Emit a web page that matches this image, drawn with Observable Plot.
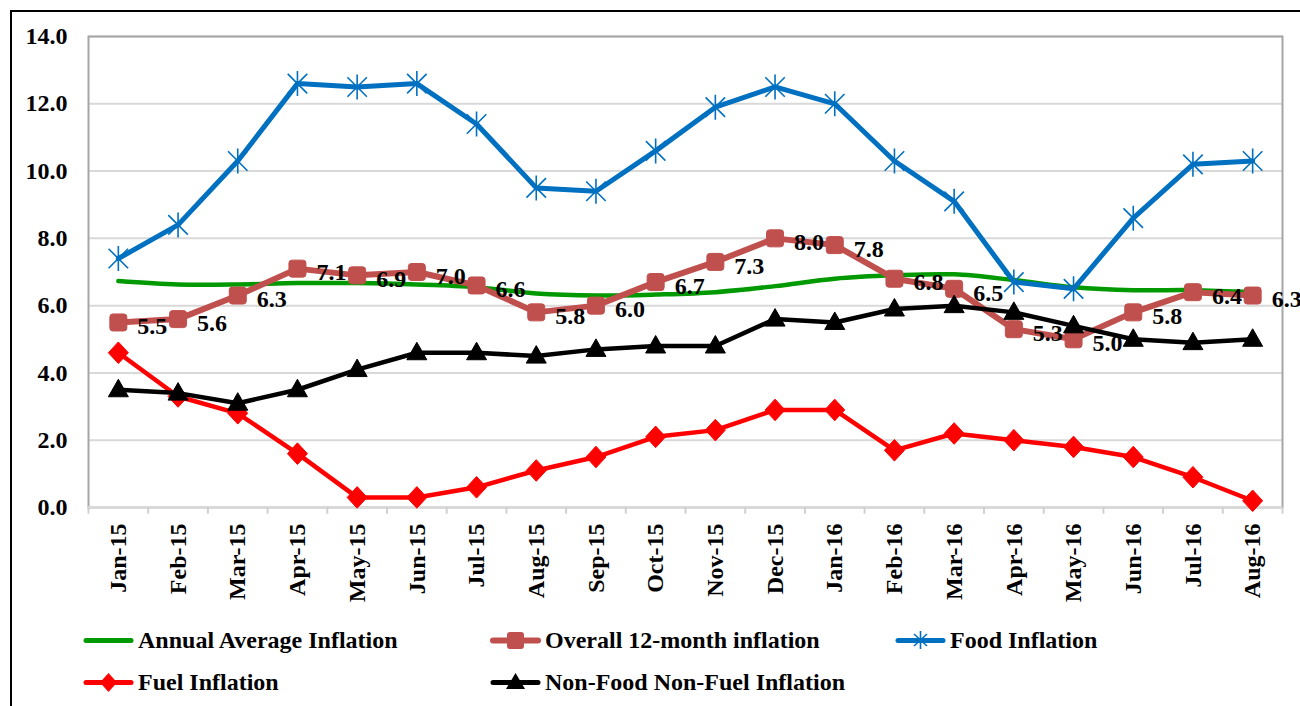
<!DOCTYPE html>
<html><head><meta charset="utf-8">
<script src="https://cdn.jsdelivr.net/npm/d3@7"></script>
<script src="https://cdn.jsdelivr.net/npm/@observablehq/plot@0.6"></script>
<style>
html,body{margin:0;padding:0;background:#fff;}
#wrap{position:relative;width:1300px;height:706px;overflow:hidden;font-family:"Liberation Serif","Times New Roman",serif;font-weight:bold;}
#box{position:absolute;left:10px;top:10px;width:1400px;height:800px;border-left:2px solid #000;border-top:2px solid #000;}
#chart{position:absolute;left:0;top:0;}
.leg{position:absolute;display:flex;align-items:center;font-size:24px;color:#000;white-space:nowrap;height:30px;}
.leg svg{margin-right:4px;}
</style>
</head><body>
<div id="wrap"><div id="box"></div><div id="chart"></div><div id="legend"></div></div>
<script>
const months = ["Jan-15","Feb-15","Mar-15","Apr-15","May-15","Jun-15","Jul-15","Aug-15","Sep-15","Oct-15","Nov-15","Dec-15","Jan-16","Feb-16","Mar-16","Apr-16","May-16","Jun-16","Jul-16","Aug-16"];
const annualAverage = [6.73,6.63,6.63,6.67,6.67,6.63,6.55,6.36,6.3,6.33,6.4,6.58,6.8,6.9,6.93,6.76,6.55,6.46,6.46,6.4];
const overall12 = [5.5,5.6,6.3,7.1,6.9,7.0,6.6,5.8,6.0,6.7,7.3,8.0,7.8,6.8,6.5,5.3,5.0,5.8,6.4,6.3];
const food = [7.4,8.4,10.3,12.6,12.5,12.6,11.4,9.5,9.4,10.6,11.9,12.5,12.0,10.3,9.1,6.7,6.5,8.6,10.2,10.3];
const fuel = [4.6,3.3,2.8,1.6,0.3,0.3,0.6,1.1,1.5,2.1,2.3,2.9,2.9,1.7,2.2,2.0,1.8,1.5,0.9,0.2];
const nonFoodNonFuel = [3.5,3.4,3.1,3.5,4.1,4.6,4.6,4.5,4.7,4.8,4.8,5.6,5.5,5.9,6.0,5.8,5.4,5.0,4.9,5.0];
const yTicks = [0,2,4,6,8,10,12,14];

const seriesNames = ["Annual Average Inflation","Overall 12-month inflation","Food Inflation","Fuel Inflation","Non-Food Non-Fuel Inflation"];
const colors = {green:"#009900", brick:"#C0504D", blue:"#0070C0", red:"#FF0000", black:"#000000"};

const rows = (vals) => months.map((m,i)=>({month:m, value:vals[i]}));

// custom marker symbols
const starSym = {draw(ctx,size){const r=Math.sqrt(size/Math.PI);const d=r*0.78;
  ctx.moveTo(0,-r);ctx.lineTo(0,r);ctx.moveTo(-d,-d);ctx.lineTo(d,d);ctx.moveTo(-d,d);ctx.lineTo(d,-d);}};
const roundSq = {draw(ctx,size){const r=Math.sqrt(size/Math.PI);const s=r,c=3;
  ctx.moveTo(-s+c,-s);ctx.lineTo(s-c,-s);ctx.arcTo(s,-s,s,-s+c,c);ctx.lineTo(s,s-c);ctx.arcTo(s,s,s-c,s,c);
  ctx.lineTo(-s+c,s);ctx.arcTo(-s,s,-s,s-c,c);ctx.lineTo(-s,-s+c);ctx.arcTo(-s,-s,-s+c,-s,c);ctx.closePath();}};
const diamondSym = {draw(ctx,size){const r=Math.sqrt(size/Math.PI);
  ctx.moveTo(0,-r*1.08);ctx.lineTo(r,0);ctx.lineTo(0,r*1.08);ctx.lineTo(-r,0);ctx.closePath();}};
const triSym = {draw(ctx,size){const r=Math.sqrt(size/Math.PI);
  ctx.moveTo(0,-r*1.05);ctx.lineTo(r,r*0.7);ctx.lineTo(-r,r*0.7);ctx.closePath();}};

const W = 1300, H = 620, mL = 88, mR = 18, mT = 36, mB = 113;
const step = (W - mL - mR) / months.length;

const plot = Plot.plot({
  width: W, height: H,
  marginLeft: mL, marginRight: mR, marginTop: mT, marginBottom: mB,
  style: {fontFamily:'"Liberation Serif","Times New Roman",serif', fontSize:"24px", fontWeight:"bold", color:"#000", background:"transparent"},
  x: {type:"point", domain: months, padding: 0.5, round: false, label: null},
  y: {domain:[0,14], label: null},
  marks: [
    Plot.gridY(yTicks, {stroke:"#d9d9d9", strokeOpacity:1, strokeWidth:2}),
    Plot.frame({stroke:"#a6a6a6", strokeWidth:2}),
    Plot.ruleY([0], {stroke:"#d9d9d9", strokeWidth:3}),
    Plot.ruleX(months, {x:d=>d, dx:-step/2, y1:0, y2:-0.2, stroke:"#d0d0d0", strokeWidth:2}),
    Plot.ruleX(months.slice(-1), {x:d=>d, dx:step/2, y1:0, y2:-0.2, stroke:"#d0d0d0", strokeWidth:2}),
    Plot.axisY(yTicks, {tickFormat:d=>d.toFixed(1), tickSize:0, tickPadding:21, fontSize:24, fontWeight:"bold", label:null}),
    Plot.axisX({tickRotate:-90, tickSize:0, tickPadding:16, fontSize:24, fontWeight:"bold", label:null}),
    // Annual average
    Plot.line(rows(annualAverage), {x:"month", y:"value", stroke:colors.green, strokeWidth:4.5, curve:"catmull-rom"}),
    // Overall 12-month
    Plot.line(rows(overall12), {x:"month", y:"value", stroke:colors.brick, strokeWidth:6}),
    Plot.dot(rows(overall12), {x:"month", y:"value", symbol:roundSq, r:8.5, fill:colors.brick, stroke:colors.brick, strokeWidth:1}),
    // Food
    Plot.line(rows(food), {x:"month", y:"value", stroke:colors.blue, strokeWidth:5}),
    Plot.dot(rows(food), {x:"month", y:"value", symbol:starSym, r:12.5, fill:"none", stroke:colors.blue, strokeWidth:1.6}),
    // Fuel
    Plot.line(rows(fuel), {x:"month", y:"value", stroke:colors.red, strokeWidth:4.5}),
    Plot.dot(rows(fuel), {x:"month", y:"value", symbol:diamondSym, r:10, fill:colors.red, stroke:colors.red, strokeWidth:1}),
    // data labels
    Plot.text(rows(overall12), {x:"month", y:"value", text:d=>d.value.toFixed(1), dx:19, dy:4, textAnchor:"start", fill:"#000", fontSize:24, fontWeight:"bold"}),
    // Non-food non-fuel
    Plot.line(rows(nonFoodNonFuel), {x:"month", y:"value", stroke:colors.black, strokeWidth:4.5}),
    Plot.dot(rows(nonFoodNonFuel), {x:"month", y:"value", symbol:triSym, r:10, fill:colors.black, stroke:colors.black, strokeWidth:1})
  ]
});
document.getElementById("chart").appendChild(plot);

// legend
const swatch = (color, marker, lw) => {
  const m = {
    none: "",
    square: `<rect x="17" y="4" width="17" height="17" rx="3" fill="${color}"/>`,
    star: `<path d="M25.5,3V21M19,6L32,18M19,18L32,6" stroke="${color}" stroke-width="1.6" fill="none"/>`,
    diamond: `<path d="M25.5,3L34,12.5L25.5,22L17,12.5Z" fill="${color}"/>`,
    triangle: `<path d="M25.5,3L35,19L16,19Z" fill="${color}"/>`
  }[marker];
  return `<svg width="51" height="25" viewBox="0 0 51 25"><line x1="3" y1="12.5" x2="48" y2="12.5" stroke="${color}" stroke-width="${lw}" stroke-linecap="round"/>${m}</svg>`;
};
const legendItems = [
  {name:seriesNames[0], color:colors.green, marker:"none", lw:5, left:83, top:625},
  {name:seriesNames[1], color:colors.brick, marker:"square", lw:6, left:490, top:625},
  {name:seriesNames[2], color:colors.blue, marker:"star", lw:5, left:895, top:625},
  {name:seriesNames[3], color:colors.red, marker:"diamond", lw:5, left:83, top:667},
  {name:seriesNames[4], color:colors.black, marker:"triangle", lw:5, left:490, top:667}
];
const lg = document.getElementById("legend");
legendItems.forEach(it=>{
  const d = document.createElement("div");
  d.className = "leg";
  d.style.left = it.left + "px"; d.style.top = it.top + "px";
  d.innerHTML = swatch(it.color, it.marker, it.lw) + `<span>${it.name}</span>`;
  lg.appendChild(d);
});
</script>
</body></html>
